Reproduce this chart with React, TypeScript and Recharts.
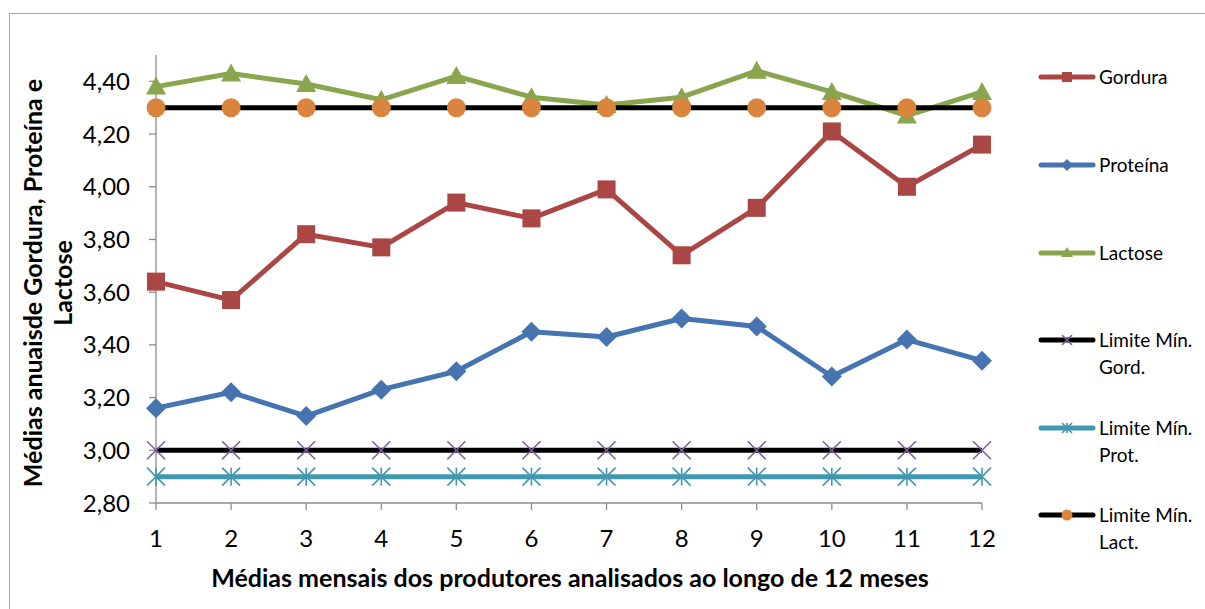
import React from 'react';
import { LineChart, Line, XAxis, YAxis } from 'recharts';

// months 1..12
const meses = ['1', '2', '3', '4', '5', '6', '7', '8', '9', '10', '11', '12'];

const gordura = [3.64, 3.57, 3.82, 3.77, 3.94, 3.88, 3.99, 3.74, 3.92, 4.21, 4.0, 4.16];
const proteina = [3.16, 3.22, 3.13, 3.23, 3.3, 3.45, 3.43, 3.5, 3.47, 3.28, 3.42, 3.34];
const lactose = [4.38, 4.43, 4.39, 4.33, 4.42, 4.34, 4.31, 4.34, 4.44, 4.36, 4.27, 4.36];
const limGord = [3.0, 3.0, 3.0, 3.0, 3.0, 3.0, 3.0, 3.0, 3.0, 3.0, 3.0, 3.0];
const limProt = [2.9, 2.9, 2.9, 2.9, 2.9, 2.9, 2.9, 2.9, 2.9, 2.9, 2.9, 2.9];
const limLact = [4.3, 4.3, 4.3, 4.3, 4.3, 4.3, 4.3, 4.3, 4.3, 4.3, 4.3, 4.3];

const yTicks = [2.8, 3.0, 3.2, 3.4, 3.6, 3.8, 4.0, 4.2, 4.4];

const data = meses.map((m, i) => ({
  mes: m,
  gordura: gordura[i],
  proteina: proteina[i],
  lactose: lactose[i],
  limGord: limGord[i],
  limProt: limProt[i],
  limLact: limLact[i],
}));

const FONT = 'Lato, "Open Sans", sans-serif';
const RED = '#AA4643';
const BLUE = '#4674B0';
const GREEN = '#89A54E';
const PURPLE = '#7D60A0';
const TEAL = '#4198AF';
const ORANGE = '#DB843D';

type Shape = 'square' | 'diamond' | 'triangle' | 'x' | 'star' | 'circle';

const marker = (shape: Shape, cx: number, cy: number, s: number, color: string, key?: string) => {
  switch (shape) {
    case 'square':
      return <rect key={key} x={cx - s} y={cy - s} width={s * 2} height={s * 2} fill={color} />;
    case 'diamond':
      return (
        <polygon key={key} points={`${cx},${cy - s - 1} ${cx + s + 1},${cy} ${cx},${cy + s + 1} ${cx - s - 1},${cy}`} fill={color} />
      );
    case 'triangle':
      return (
        <polygon key={key} points={`${cx},${cy - s - 1} ${cx + s + 1},${cy + s - 1} ${cx - s - 1},${cy + s - 1}`} fill={color} />
      );
    case 'x':
      return (
        <g key={key} stroke={color} strokeWidth={1.6}>
          <line x1={cx - s} y1={cy - s} x2={cx + s} y2={cy + s} />
          <line x1={cx - s} y1={cy + s} x2={cx + s} y2={cy - s} />
        </g>
      );
    case 'star':
      return (
        <g key={key} stroke={color} strokeWidth={1.6}>
          <line x1={cx - s} y1={cy - s} x2={cx + s} y2={cy + s} />
          <line x1={cx - s} y1={cy + s} x2={cx + s} y2={cy - s} />
          <line x1={cx} y1={cy - s} x2={cx} y2={cy + s} />
        </g>
      );
    default:
      return <circle key={key} cx={cx} cy={cy} r={s + 0.5} fill={color} />;
  }
};

const dotFor = (shape: Shape, color: string, name: string) => (props: any) =>
  marker(shape, props.cx, props.cy, 9, color, `${name}-${props.index}`);

const series = [
  { key: 'gordura', label: ['Gordura'], line: RED, mark: RED, shape: 'square' as Shape },
  { key: 'proteina', label: ['Proteína'], line: BLUE, mark: BLUE, shape: 'diamond' as Shape },
  { key: 'lactose', label: ['Lactose'], line: GREEN, mark: GREEN, shape: 'triangle' as Shape },
  { key: 'limGord', label: ['Limite Mín.', 'Gord.'], line: '#000000', mark: PURPLE, shape: 'x' as Shape },
  { key: 'limProt', label: ['Limite Mín.', 'Prot.'], line: TEAL, mark: TEAL, shape: 'star' as Shape },
  { key: 'limLact', label: ['Limite Mín.', 'Lact.'], line: '#000000', mark: ORANGE, shape: 'circle' as Shape },
];

const legendTops = [66, 154, 242, 329, 417, 504];

const fmt = (v: number) => v.toFixed(2).replace('.', ',');

export default function App() {
  return (
    <div
      style={{
        position: 'absolute',
        left: 0,
        top: 0,
        width: 1205,
        height: 609,
        overflow: 'hidden',
        background: '#fff',
        fontFamily: FONT,
      }}
    >
      <div
        style={{
          position: 'absolute',
          left: 9,
          top: 13,
          width: 1220,
          height: 620,
          border: '1px solid #a6a6a6',
        }}
      />
      <div style={{ position: 'absolute', left: 0, top: 0 }}>
        <LineChart width={1205} height={609} data={data} margin={{ top: 55, right: 223, bottom: 0, left: 0 }}>
          <XAxis
            dataKey="mes"
            height={106}
            axisLine={{ stroke: '#8c8c8c', strokeWidth: 1.3 }}
            tickLine={{ stroke: '#8c8c8c', strokeWidth: 1.3 }}
            tickSize={7}
            tickMargin={20}
            tick={{ fontSize: 24, fill: '#000', fontFamily: FONT }}
            interval={0}
            label={{
              content: () => (
                <text
                  x={570}
                  y={587}
                  textAnchor="middle"
                  fontSize={25}
                  fontWeight="bold"
                  fontFamily={FONT}
                  fill="#000"
                >
                  Médias mensais dos produtores analisados ao longo de 12 meses
                </text>
              ),
            }}
          />
          <YAxis
            width={156}
            domain={[2.8, 4.5]}
            ticks={yTicks}
            type="number"
            allowDataOverflow
            tickFormatter={fmt}
            axisLine={{ stroke: '#8c8c8c', strokeWidth: 1.3 }}
            tickLine={{ stroke: '#8c8c8c', strokeWidth: 1.3 }}
            tickSize={7}
            tickMargin={19}
            tick={{ fontSize: 24, fill: '#000', fontFamily: FONT }}
            label={{
              content: () => (
                <g transform="translate(0,283) rotate(-90)">
                  <text
                    x={0}
                    y={42}
                    textAnchor="middle"
                    fontSize={25}
                    fontWeight="bold"
                    fontFamily={FONT}
                    fill="#000"
                  >
                    Médias anuaisde Gordura, Proteína e
                  </text>
                  <text
                    x={0}
                    y={72}
                    textAnchor="middle"
                    fontSize={25}
                    fontWeight="bold"
                    fontFamily={FONT}
                    fill="#000"
                  >
                    Lactose
                  </text>
                </g>
              ),
            }}
          />
          {series.map((s) => (
            <Line
              key={s.key}
              dataKey={s.key}
              type="linear"
              stroke={s.line}
              strokeWidth={5}
              strokeLinejoin="round"
              dot={dotFor(s.shape, s.mark, s.key)}
              activeDot={false}
              isAnimationActive={false}
            />
          ))}
        </LineChart>
      </div>
      {series.map((s, i) => (
        <div key={s.key} style={{ position: 'absolute', left: 1036, top: legendTops[i] }}>
          <svg width={62} height={24} style={{ position: 'absolute', left: 0, top: 0 }}>
            <line x1={5} y1={11} x2={57} y2={11} stroke={s.line} strokeWidth={5} strokeLinecap="round" />
            {marker(s.shape, 31, 11, 5, s.mark)}
          </svg>
          <div
            style={{
              position: 'absolute',
              left: 63,
              top: 0,
              fontSize: 19,
              lineHeight: '27px',
              whiteSpace: 'nowrap',
              color: '#000',
              marginTop: -3,
            }}
          >
            {s.label.map((l) => (
              <div key={l}>{l}</div>
            ))}
          </div>
        </div>
      ))}
    </div>
  );
}
